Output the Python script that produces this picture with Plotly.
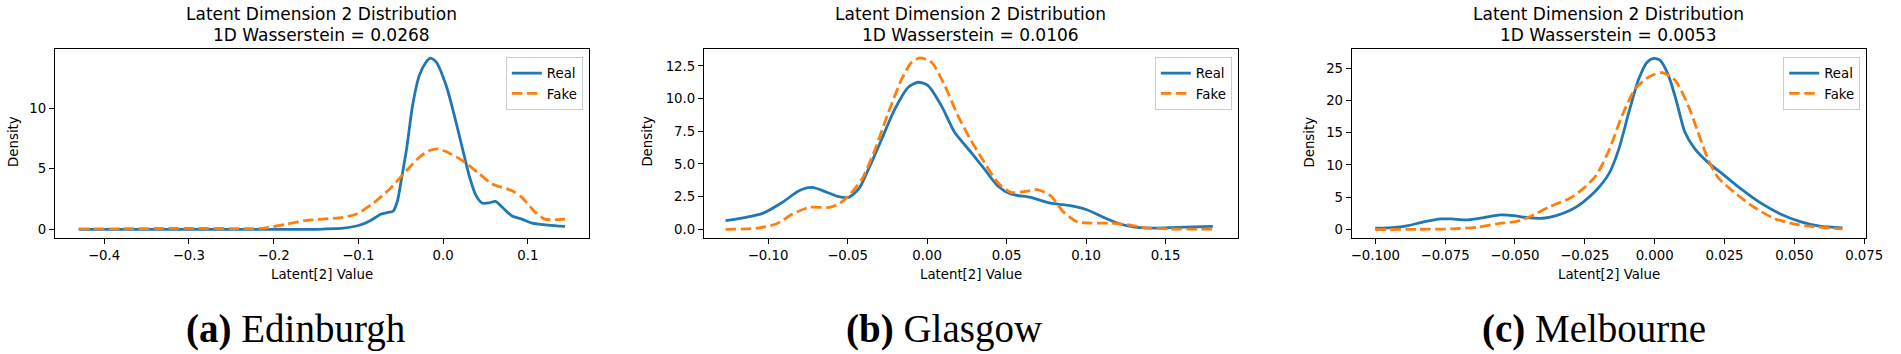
import plotly.graph_objects as go

W, H = 1901, 354

# ---------------- data ----------------
# (a) Edinburgh
edi_real_x = [-0.430, -0.36, -0.30, -0.24, -0.18, -0.141, -0.1175, -0.098, -0.086, -0.073, -0.065, -0.059,
              -0.054, -0.049, -0.043, -0.036, -0.028, -0.020, -0.015, -0.008, 0.0035, 0.0133, 0.023, 0.031,
              0.039, 0.046, 0.054, 0.062, 0.070, 0.081, 0.093, 0.105, 0.124, 0.144]
edi_real_y = [0.0, 0.0, 0.0, 0.0, 0.0, 0.03, 0.10, 0.36, 0.72, 1.27, 1.40, 1.50,
              2.30, 4.20, 6.64, 10.2, 12.7, 13.8, 14.13, 13.8, 11.9, 9.4, 6.64, 4.4,
              2.78, 2.18, 2.18, 2.31, 1.82, 1.13, 0.85, 0.52, 0.36, 0.25]
edi_fake_x = [-0.430, -0.38, -0.33, -0.28, -0.25, -0.215, -0.184, -0.161, -0.142, -0.1175, -0.102, -0.082,
              -0.063, -0.043, -0.028, -0.016, -0.006, 0.0035, 0.023, 0.043, 0.058, 0.081,
              0.093, 0.109, 0.120, 0.132, 0.144]
edi_fake_y = [0.05, 0.05, 0.08, 0.08, 0.07, 0.08, 0.44, 0.74, 0.85, 1.0, 1.27, 2.18,
              3.33, 4.85, 5.95, 6.5, 6.64, 6.42, 5.67, 4.57, 3.75, 3.2,
              2.64, 1.4, 0.85, 0.8, 0.85]

# (b) Glasgow
gla_real_x = [-0.1267, -0.1138, -0.1034, -0.0909, -0.0805, -0.0722, -0.0638, -0.0555, -0.0493, -0.043,
              -0.0368, -0.0285, -0.0202, -0.0118, -0.0056, 0.0006, 0.009, 0.0173, 0.0277, 0.036,
              0.0443, 0.0526, 0.0651, 0.0776, 0.0901, 0.1005, 0.111, 0.1214, 0.1318, 0.1443, 0.1568, 0.1797]
gla_real_y = [0.66, 0.92, 1.22, 2.07, 2.96, 3.21, 2.88, 2.5, 2.45, 3.09,
              4.62, 6.91, 9.21, 10.87, 11.25, 11.0, 9.46, 7.42, 5.89, 4.62,
              3.34, 2.7, 2.45, 2.0, 1.81, 1.5, 0.92, 0.41, 0.15, 0.1, 0.15, 0.23]
gla_fake_x = [-0.1267, -0.1075, -0.095, -0.0846, -0.0742, -0.0617, -0.0555, -0.0493, -0.0409, -0.0326,
              -0.0243, -0.0159, -0.0097, -0.0045, 0.0028, 0.0111, 0.0194, 0.0277, 0.036, 0.0443,
              0.0526, 0.061, 0.0693, 0.0776, 0.086, 0.0943, 0.1026, 0.1151, 0.1276, 0.138, 0.1526, 0.1797]
gla_fake_y = [0.0, 0.08, 0.41, 1.17, 1.68, 1.68, 1.94, 2.58, 3.85, 6.15,
              8.95, 11.5, 12.78, 13.11, 12.78, 11.0, 8.7, 6.79, 5.13, 3.6,
              2.83, 2.88, 3.04, 2.58, 1.3, 0.59, 0.48, 0.48, 0.33, 0.1, 0.03, 0.03]

# (c) Melbourne
mel_real_x = [-0.100, -0.0929, -0.0882, -0.0823, -0.0764, -0.0729, -0.0670, -0.0611, -0.0552, -0.0505,
              -0.0458, -0.0399, -0.0352, -0.0304, -0.0257, -0.021, -0.0163, -0.0128, -0.0092, -0.0057,
              -0.0027, -0.0004, 0.0020, 0.0049, 0.0079, 0.0108, 0.0144, 0.0191, 0.025, 0.0309,
              0.0379, 0.045, 0.0521, 0.0591, 0.0672]
mel_real_y = [0.21, 0.36, 0.62, 1.24, 1.65, 1.65, 1.5, 1.86, 2.27, 2.17,
              1.86, 1.76, 2.17, 2.94, 4.23, 6.04, 8.7, 12.5, 18.2, 23.3,
              25.9, 26.5, 26.2, 23.9, 19.7, 15.1, 12.5, 10.4, 8.36, 6.3,
              4.13, 2.43, 1.24, 0.52, 0.26]
mel_fake_x = [-0.100, -0.0847, -0.0729, -0.0635, -0.0564, -0.0481, -0.0446, -0.0375, -0.0304, -0.0257,
              -0.021, -0.0163, -0.0116, -0.0069, -0.0022, 0.0026, 0.0073, 0.012, 0.0155, 0.0191,
              0.0226, 0.0285, 0.0356, 0.0426, 0.0497, 0.0568, 0.0672]
mel_fake_y = [0.0, 0.05, 0.1, 0.36, 0.88, 1.39, 2.01, 3.56, 4.85, 6.3,
              8.36, 12.3, 17.7, 21.8, 23.6, 24.3, 23.1, 19.2, 15.1, 10.9,
              8.1, 5.78, 3.46, 1.76, 0.88, 0.46, 0.1]

titles = ["Latent Dimension 2 Distribution"] * 3
wasserstein = ["1D Wasserstein = 0.0268", "1D Wasserstein = 0.0106", "1D Wasserstein = 0.0053"]
captions = ["<b>(a)</b> Edinburgh", "<b>(b)</b> Glasgow", "<b>(c)</b> Melbourne"]
xlabel = "Latent[2] Value"
ylabel = "Density"

x_tickvals = [
    [-0.4, -0.3, -0.2, -0.1, 0.0, 0.1],
    [-0.10, -0.05, 0.00, 0.05, 0.10, 0.15],
    [-0.100, -0.075, -0.050, -0.025, 0.000, 0.025, 0.050, 0.075],
]
x_ticktext = [
    ["\u22120.4", "\u22120.3", "\u22120.2", "\u22120.1", "0.0", "0.1"],
    ["\u22120.10", "\u22120.05", "0.00", "0.05", "0.10", "0.15"],
    ["\u22120.100", "\u22120.075", "\u22120.050", "\u22120.025", "0.000", "0.025", "0.050", "0.075"],
]
y_tickvals = [
    [0, 5, 10],
    [0, 2.5, 5, 7.5, 10, 12.5],
    [0, 5, 10, 15, 20, 25],
]
y_ticktext = [
    ["0", "5", "10"],
    ["0.0", "2.5", "5.0", "7.5", "10.0", "12.5"],
    ["0", "5", "10", "15", "20", "25"],
]
x_ranges = [[-0.458, 0.172], [-0.1403, 0.1954], [-0.1084, 0.0757]]
y_ranges = [[-0.71, 14.85], [-0.66, 13.77], [-1.30, 27.9]]

series = [
    (edi_real_x, edi_real_y, edi_fake_x, edi_fake_y),
    (gla_real_x, gla_real_y, gla_fake_x, gla_fake_y),
    (mel_real_x, mel_real_y, mel_fake_x, mel_fake_y),
]

# ---------------- layout geometry (pixels) ----------------
ax_left = [54.5, 709.7, 1363.7]
ax_right = [593.4, 1248.6, 1883.0]
ax_top, ax_bottom = 49.3, 238.0
ylabel_x = [12.5, 652.3, 1321.5]

BLUE = "#1f77b4"
ORANGE = "#ff7f0e"
FONT = "DejaVu Sans"
SMALL = 13.3

fig = go.Figure()
annotations = []
layout_extra = {}

for i in range(3):
    rx, ry, fx, fy = series[i]
    sfx = "" if i == 0 else str(i + 1)
    xa = "x" + sfx
    ya = "y" + sfx
    leg = "legend" + sfx
    fig.add_trace(go.Scatter(x=rx, y=ry, mode="lines", name="Real", xaxis=xa, yaxis=ya,
                             line=dict(color=BLUE, width=2.8, shape="spline", smoothing=0.7),
                             legend=leg))
    fig.add_trace(go.Scatter(x=fx, y=fy, mode="lines", name="Fake", xaxis=xa, yaxis=ya,
                             line=dict(color=ORANGE, width=2.8, dash="10.5px,4.5px", shape="spline", smoothing=0.7),
                             legend=leg))

    common = dict(showline=True, linecolor="black", linewidth=1.1, mirror=True,
                  ticks="outside", ticklen=5, tickwidth=1.1, tickcolor="black",
                  showgrid=False, zeroline=False,
                  tickfont=dict(family=FONT, size=SMALL, color="black"))
    layout_extra["xaxis" + sfx] = dict(
        domain=[ax_left[i] / W, ax_right[i] / W], anchor=ya, range=x_ranges[i],
        tickmode="array", tickvals=x_tickvals[i], ticktext=x_ticktext[i], **common)
    layout_extra["yaxis" + sfx] = dict(
        domain=[1 - ax_bottom / H, 1 - ax_top / H], anchor=xa, range=y_ranges[i],
        tickmode="array", tickvals=y_tickvals[i], ticktext=y_ticktext[i], **common)

    layout_extra[leg] = dict(
        x=(ax_right[i] - 6) / W, xanchor="right", y=1 - 57 / H, yanchor="top",
        xref="paper", yref="paper",
        bgcolor="rgba(255,255,255,0.8)", bordercolor="#cccccc", borderwidth=1,
        font=dict(family=FONT, size=SMALL, color="black"), itemwidth=30,
        tracegroupgap=0)

    cx = (ax_left[i] + ax_right[i]) / 2 / W
    annotations.append(dict(text=titles[i], x=cx, y=1 - 13.6 / H, xref="paper", yref="paper",
                            showarrow=False, xanchor="center", yanchor="middle",
                            font=dict(family=FONT, size=17, color="black")))
    annotations.append(dict(text=wasserstein[i], x=cx, y=1 - 34.7 / H, xref="paper", yref="paper",
                            showarrow=False, xanchor="center", yanchor="middle",
                            font=dict(family=FONT, size=17, color="black")))
    annotations.append(dict(text=xlabel, x=cx, y=1 - 274.3 / H, xref="paper", yref="paper",
                            showarrow=False, xanchor="center", yanchor="middle",
                            font=dict(family=FONT, size=SMALL, color="black")))
    annotations.append(dict(text=ylabel, x=ylabel_x[i] / W, y=1 - 141.5 / H, xref="paper", yref="paper",
                            showarrow=False, xanchor="center", yanchor="middle", textangle=-90,
                            font=dict(family=FONT, size=SMALL, color="black")))

cap_x = [297, 952, 1608]
for i in range(3):
    annotations.append(dict(text=captions[i], x=cap_x[i] / W, y=1 - 352 / H, xref="paper", yref="paper",
                            showarrow=False, xanchor="center", yanchor="bottom", borderpad=0,
                            font=dict(family="Liberation Serif", size=39, color="black")))

fig.update_layout(width=W, height=H, margin=dict(l=0, r=0, t=0, b=0),
                  paper_bgcolor="white", plot_bgcolor="white",
                  showlegend=True, annotations=annotations, **layout_extra)

fig.write_html("out.html", config={"displayModeBar": False},
               post_script="document.body.style.margin='0px';document.body.style.overflow='hidden';")
